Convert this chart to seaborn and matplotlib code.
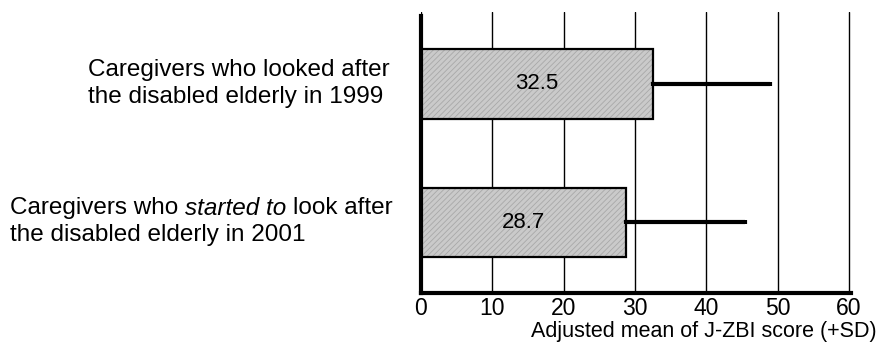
import matplotlib
matplotlib.use("Agg")
import matplotlib.pyplot as plt
import seaborn as sns
import pandas as pd

categories = ["1999 group", "2001 group"]
means = [32.5, 28.7]
sds = [16.5, 16.8]
value_labels = ["32.5", "28.7"]
xticks = [0, 10, 20, 30, 40, 50, 60]
xlabel = "Adjusted mean of J-ZBI score (+SD)"

sns.set_style("white")
plt.rcParams["font.family"] = ["Liberation Sans", "DejaVu Sans"]
plt.rcParams["text.color"] = "black"
plt.rcParams["hatch.linewidth"] = 0.6

df = pd.DataFrame({"group": categories, "mean": means})

W, H = 879, 348
fig = plt.figure(figsize=(W / 100, H / 100), dpi=100)
ax = fig.add_axes([421 / W, 1 - 293 / H, 430 / W, (293 - 12) / H])

sns.barplot(data=df, x="mean", y="group", orient="h", color="#cacaca",
            width=0.5, ax=ax, linewidth=0, saturation=1, errorbar=None)
for p in ax.patches:
    p.set_hatch("//////")
    p.set_edgecolor("#a8a8a8")
    p.set_linewidth(0)
sns.barplot(data=df, x="mean", y="group", orient="h", fill=False,
            width=0.5, ax=ax, edgecolor="black", linewidth=1.6, errorbar=None)

ax.errorbar(x=means, y=[0, 1], xerr=[[0, 0], sds], fmt="none", ecolor="black",
            elinewidth=3, capsize=1.5, capthick=3)

for i, (m, lab) in enumerate(zip(means, value_labels)):
    ax.text(m / 2, i, lab, ha="center", va="center", fontsize=16, color="black")

ax.set_xlim(0, 60.3)
ax.set_ylim(1.51, -0.52)
ax.set_xticks(xticks)
ax.set_xticklabels([str(t) for t in xticks], fontsize=16.5)
ax.set_yticks([0.5])
ax.set_yticklabels([""])
ax.set_xlabel("")
ax.set_ylabel("")
ax.tick_params(axis="x", direction="in", length=3, width=2.5, pad=3, colors="black")
ax.tick_params(axis="y", direction="out", length=2, width=3, colors="black")

ax.grid(axis="x", color="black", linewidth=1.0)
ax.set_axisbelow(True)
for s in ["top", "right"]:
    ax.spines[s].set_visible(False)
ax.spines["left"].set_linewidth(3)
ax.spines["left"].set_color("black")
ax.spines["left"].set_bounds(1.51, -0.49)
ax.spines["bottom"].set_linewidth(3)
ax.spines["bottom"].set_color("black")

fs = 17.5
fig.canvas.draw()
r = fig.canvas.get_renderer()

def width_of(s, style="normal"):
    t = fig.text(0, 0, s, fontsize=fs, style=style)
    w = t.get_window_extent(r).width
    t.remove()
    return w

# top label
fig.text(88 / W, 1 - 70 / H, "Caregivers who looked after", ha="left", va="center", fontsize=fs)
fig.text(88 / W, 1 - 97 / H, "the disabled elderly in 1999", ha="left", va="center", fontsize=fs)

# bottom label with italic part
x0 = 10
space = width_of("a b") - width_of("ab")
pieces = [("Caregivers who", "normal"), ("started to", "italic"), ("look after", "normal")]
x = x0
for s, st in pieces:
    fig.text(x / W, 1 - 208 / H, s, ha="left", va="center", fontsize=fs, style=st)
    x += width_of(s, st) + space
fig.text(x0 / W, 1 - 235 / H, "the disabled elderly in 2001", ha="left", va="center", fontsize=fs)

fig.text(877 / W, 1 - 331 / H, xlabel, ha="right", va="center", fontsize=15.5)

fig.savefig("out.png", dpi=100)
